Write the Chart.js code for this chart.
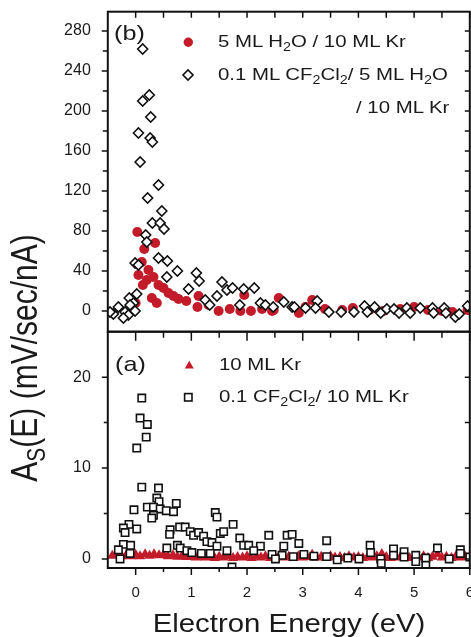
<!DOCTYPE html>
<html>
<head>
<meta charset="utf-8">
<script src="https://cdn.jsdelivr.net/npm/chart.js@4.4.1/dist/chart.umd.min.js"></script>
<style>
  html, body { margin: 0; padding: 0; background: #fff; }
  body { width: 471px; height: 637px; position: relative; overflow: hidden;
         font-family: "Liberation Sans", Arial, sans-serif; color: #1a1a1a; }
  canvas { position: absolute; left: 0; }
  #topChart { top: 0; }
  #botChart { top: 320px; }
  .txt { position: absolute; white-space: nowrap; transform-origin: 0 50%; transform: scaleX(1.2); }
  .txt sub { font-size: 0.7em; vertical-align: -0.3em; line-height: 0; }
  svg.mk { position: absolute; left: 0; top: 0; }
</style>
</head>
<body>
<canvas id="topChart" width="471" height="340"></canvas>
<canvas id="botChart" width="471" height="317"></canvas>

<svg class="mk" width="471" height="637">
  <circle cx="188.3" cy="42.3" r="4.7" fill="#c31b2a"/>
  <path d="M183 75 L188 70 L193 75 L188 80 Z" fill="#fff" stroke="#111" stroke-width="1.6"/>
  <path d="M184.8 368.5 L189.3 360.7 L193.8 368.5 Z" fill="#c31b2a"/>
  <rect x="184.6" y="393.6" width="7.4" height="7.4" fill="#fff" stroke="#111" stroke-width="1.6"/>
</svg>

<div class="txt" style="left:114px; top:22px; font-size:21px; line-height:22px;">(b)</div>
<div class="txt" style="left:115px; top:353px; font-size:21px; line-height:22px;">(a)</div>
<div class="txt" style="left:218px; top:33px; font-size:17px; line-height:18px;">5 ML H<sub>2</sub>O / 10 ML Kr</div>
<div class="txt" style="left:218px; top:66px; font-size:17px; line-height:18px;">0.1 ML CF<sub>2</sub>Cl<sub>2</sub>/ 5 ML H<sub>2</sub>O</div>
<div class="txt" style="left:356px; top:99px; font-size:17px; line-height:18px;">/ 10 ML Kr</div>
<div class="txt" style="left:219px; top:356px; font-size:17px; line-height:18px;">10 ML Kr</div>
<div class="txt" style="left:219px; top:388px; font-size:17px; line-height:18px;">0.1 CF<sub>2</sub>Cl<sub>2</sub>/ 10 ML Kr</div>

<div class="txt" style="left:288.8px; top:609.7px; font-size:26px; line-height:26px; transform-origin:50% 50%; transform:translateX(-50%) scaleX(1.13);">Electron Energy (eV)</div>
<div class="txt" style="left:25px; top:358px; font-size:30px; line-height:30px; transform-origin:50% 50%; transform:translate(-50%,-50%) scaleX(1.2) rotate(-90deg);">A<sub>S</sub>(E) (mV/sec/nA)</div>

<script>
// x range shared by both panels (eV)
const xMin = -0.5, xMax = 6;
const xTickLabels = [0, 1, 2, 3, 4, 5, 6];
const xMinorTicks = [0.5, 1.5, 2.5, 3.5, 4.5, 5.5];

// panel (b) axis
const topTickLabels = [0, 40, 80, 120, 160, 200, 240, 280];
const topMinorTicks = [20, 60, 100, 140, 180, 220, 260];
// panel (a) axis
const botTickLabels = [0, 10, 20];
const botMinorTicks = [5, 15];

// (b) 5 ML H2O / 10 ML Kr
const h2oX = [0.03, 0.155, 0.35, 0.11, 0.23, 0.05, 0.32, 0.13, 0.2, 0.41, 0.5, 0.59, 0.68, 0.77, 0.29, 0.38, 0.0,
              0.91, 1.13, 1.11, 1.31, 1.49, 1.69, 1.88, 1.95, 2.07, 2.27, 2.45, 2.57, 2.48, 2.93, 3.17, 3.05,
              3.4, 3.71, 3.9, 4.2, 4.45, 4.75, 5.0, 5.25, 5.5, 5.69, 5.96];
const h2oY = [79, 62, 68, 49, 41, 36, 34, 26, 31, 26, 23, 18, 15, 12, 13, 8, 8,
              10, 15, 4, 6, 0, 2, 0, 16, 0, 2, 0, 13, 1, -2, 11, 4,
              2, 1, 3, 1, 0, 2, 4, 1, 0, -1, 1];

// (b) 0.1 ML CF2Cl2 / 5 ML H2O / 10 ML Kr
const cfX = [0.126, 0.245, 0.126, 0.27, 0.05, 0.26, 0.3, 0.08, 0.41, 0.215, 0.47, 0.30, 0.44, 0.51, 0.18, 0.2,
             0.41, 0.57, -0.01, 0.05, 0.75, 0.56, 1.09, 1.14, 0.95, 1.55, 1.64, 1.74, 1.94, 2.13, 1.46, 1.25,
             1.33, 1.87, 0.02, -0.115, -0.04, -0.1, -0.31, -0.01, -0.40, -0.19, -0.13, -0.46, -0.22, 2.24, 2.33,
             2.47, 2.66, 2.81, 2.85, 3.05, 3.26, 3.23, 3.47, 3.69, 3.92, 4.11, 4.16, 4.29, 4.40, 4.51, 4.64,
             4.73, 4.87, 4.93, 5.11, 5.33, 5.35, 5.54, 5.57, 5.74, 5.81, 5.96];
const cfY = [262, 216, 210, 194, 178, 173, 169, 149, 126, 113, 100, 88, 88, 82, 76, 69,
             53, 50, 48, 46, 40, 34, 38, 30, 22, 29, 21, 23, 22, 23, 15, 11,
             6, 6, 17, 13, 8, 6, 4, 0, -3, -1, -4, -1, -7, 8, 6,
             4, 9, 4, 4, 3, 10, 3, -1, -1, -1, 5, -1, 4, -2, 2, 2,
             -2, 3, -2, 3, 3, -2, 3, -2, -6, -3, 5];

// (a) 10 ML Kr
const krX = [-0.42, -0.33, -0.25, -0.17, -0.08, 0.0, 0.08, 0.17, 0.25, 0.33, 0.42, 0.5, 0.58, 0.67, 0.75, 0.83,
             0.92, 1.0, 1.08, 1.17, 1.25, 1.33, 1.42, 1.5, 1.58, 1.67, 1.75, 1.83, 1.92, 2.0, 2.08, 2.17,
             2.25, 2.33, 2.42, 2.5, 2.58, 2.67, 2.75, 2.83, 2.92, 3.0, 3.08, 3.17, 3.25, 3.33, 3.42, 3.5,
             3.58, 3.67, 3.75, 3.83, 3.92, 4.0, 4.08, 4.17, 4.25, 4.33, 4.42, 4.5, 4.58, 4.67, 4.75, 4.83,
             4.92, 5.0, 5.08, 5.17, 5.25, 5.33, 5.42, 5.5, 5.58, 5.67, 5.75, 5.83, 5.92, 6.0];
const krY = [0.35, 0.45, 0.3, 0.4, 0.3, 0.45, 0.3, 0.5, 0.35, 0.5, 0.4, 0.45, 0.3, 0.4, 0.25, 0.3,
             0.2, 0.3, 0.15, 0.25, 0.15, 0.2, 0.1, 0.25, 0.15, 0.3, 0.1, 0.2, 0.15, 0.3, 0.1, 0.25,
             0.15, 0.3, 0.1, 0.2, 0.35, 0.15, 0.25, 0.1, 0.3, 0.15, 0.2, 0.45, 0.15, 0.25, 0.1, 0.3,
             0.15, 0.2, 0.1, 0.3, 0.15, 0.2, 0.1, 0.25, 0.15, 0.3, 0.55, 0.2, 0.1, 0.25, 0.15, 0.3,
             0.1, 0.2, 0.15, 0.3, 0.1, 0.25, 0.5, 0.15, 0.25, 0.1, 0.3, 0.15, 0.25, 0.2];

// (a) 0.1 CF2Cl2 / 10 ML Kr
const cfKrX = [0.11, 0.08, 0.21, 0.19, 0.02, 0.11, 0.41, 0.38, 0.42, 0.21, 0.32, 0.73, -0.03, 0.44, 0.55, 0.68,
               0.32, 0.29, 1.43, 1.46, 1.75, -0.12, -0.22, 0.02, -0.19, 0.62, 0.61, 0.79, 0.89, 0.98, 1.04, 1.13,
               1.22, 1.52, 1.58, 1.28, 1.37, 1.46, 1.87, 1.94, 2.03, 2.39, 2.24, 2.72, 2.66, -0.22, -0.09, -0.31,
               -0.28, -0.10, 0.56, 0.75, 0.80, 0.92, 1.01, 1.18, 1.34, 1.64, 2.12, 2.45, 2.63, 1.73, 2.81, 2.93,
               2.83, 2.51, 3.02, 3.20, 3.43, 3.43, 3.62, 3.81, 4.01, 4.21, 4.22, 4.40, 4.41, 4.63, 4.63, 4.82,
               4.82, 5.03, 5.03, 5.21, 5.21, 5.42, 5.63, 5.83, 5.83, 6.00];
const cfKrY = [17.7, 15.5, 14.8, 13.4, 12.2, 7.9, 7.8, 6.7, 6.3, 5.7, 5.7, 6.1, 5.4, 5.5, 5.3, 5.2,
               4.8, 4.5, 5.1, 4.6, 3.8, 3.8, 3.4, 3.3, 2.9, 3.2, 2.7, 3.5, 3.5, 3.0, 2.6, 2.9,
               2.5, 2.8, 3.0, 1.9, 1.8, 1.4, 2.3, 1.5, 1.5, 2.6, 1.4, 2.6, 1.4, 1.6, 1.5, 1.0,
               0.0, 0.6, 1.2, 1.5, 1.2, 0.9, 0.7, 0.6, 0.6, 0.9, 0.9, 0.5, 0.4, -0.9, 2.7, 1.7,
               0.25, 0.0, 0.5, 0.3, 2.0, 0.25, -0.1, 0.1, 0.0, 1.5, 0.7, 0.0, -0.5, 1.1, 0.4, 0.8,
               0.2, 0.4, -0.3, 0.1, -0.7, 1.2, 0.0, 1.0, 0.6, 0.2];

const red = '#c31b2a';
const ink = '#111';

function pts(xs, ys) {
    return xs.map((x, i) => ({ x: x, y: ys[i] }));
}

// frame box plus tick marks on all four sides, placed through the chart's scales
const frameTicks = {
    id: 'frameTicks',
    afterDraw(chart, args, opts) {
        const { ctx, chartArea: a, scales } = chart;
        const x = scales.x, y = scales.y;
        ctx.save();
        ctx.strokeStyle = ink;
        ctx.lineWidth = 2;
        ctx.strokeRect(a.left, a.top, a.right - a.left, a.bottom - a.top);
        ctx.lineWidth = 1.5;
        ctx.beginPath();
        const yTicks = opts.yMajor.map(v => [v, true]).concat(opts.yMinor.map(v => [v, false]));
        yTicks.forEach(([v, major]) => {
            const py = y.getPixelForValue(v);
            const lenL = major ? opts.left[0] : opts.left[1];
            ctx.moveTo(a.left - lenL, py); ctx.lineTo(a.left, py);
            ctx.moveTo(a.right, py); ctx.lineTo(a.right - opts.right, py);
        });
        const xTicks = xTickLabels.map(v => [v, true]).concat(xMinorTicks.map(v => [v, false]));
        xTicks.forEach(([v, major]) => {
            const px = x.getPixelForValue(v);
            if (opts.top) {
                const len = major ? opts.top[0] : opts.top[1];
                ctx.moveTo(px, a.top); ctx.lineTo(px, a.top + len);
            }
            if (opts.bottom) {
                const len = major ? opts.bottom[0] : opts.bottom[1];
                ctx.moveTo(px, a.bottom); ctx.lineTo(px, a.bottom + len);
            }
        });
        ctx.stroke();
        ctx.restore();
    }
};

function yAxis(min, max, labels) {
    return {
        type: 'linear', position: 'left', min: min, max: max,
        grid: { display: false, drawTicks: false },
        border: { display: false },
        ticks: { padding: 17, color: '#1a1a1a', font: { family: 'Liberation Sans', size: 16 } },
        afterBuildTicks: s => { s.ticks = labels.map(v => ({ value: v })); },
        afterFit: s => { s.width = 107.8; s.paddingTop = 0; s.paddingBottom = 0; }
    };
}

function xAxis(show) {
    return {
        type: 'linear', position: 'bottom', min: xMin, max: xMax, display: show,
        grid: { display: false, drawTicks: false },
        border: { display: false },
        ticks: { padding: 16, autoSkip: false, maxRotation: 0, color: '#1a1a1a',
                 font: { family: 'Liberation Sans', size: 15 } },
        afterBuildTicks: s => { s.ticks = xTickLabels.map(v => ({ value: v })); },
        afterFit: s => { s.height = show ? 69 : 0; s.paddingLeft = 0; s.paddingRight = 0; }
    };
}

new Chart(document.getElementById('topChart'), {
    type: 'scatter',
    data: {
        datasets: [
            { label: '0.1 ML CF2Cl2/ 5 ML H2O / 10 ML Kr', data: pts(cfX, cfY), order: 0,
              pointStyle: 'rectRot', pointRadius: 5, backgroundColor: '#fff', borderColor: ink, borderWidth: 1.6 },
            { label: '5 ML H2O / 10 ML Kr', data: pts(h2oX, h2oY), order: 1,
              pointStyle: 'circle', pointRadius: 5, backgroundColor: red, borderColor: red, borderWidth: 0 }
        ]
    },
    options: {
        responsive: false, animation: false, events: [],
        layout: { autoPadding: false, padding: { top: 11.7, right: 1.2, bottom: 8.3, left: 0 } },
        scales: { x: xAxis(false), y: yAxis(-20.7, 299.3, topTickLabels) },
        plugins: {
            legend: { display: false }, tooltip: { enabled: false },
            frameTicks: { yMajor: topTickLabels, yMinor: topMinorTicks, left: [6, 5], right: 5, top: [6, 6], bottom: null }
        }
    },
    plugins: [frameTicks]
});

new Chart(document.getElementById('botChart'), {
    type: 'scatter',
    data: {
        datasets: [
            { label: '0.1 CF2Cl2/ 10 ML Kr', data: pts(cfKrX, cfKrY), order: 0,
              pointStyle: 'rect', pointRadius: 5.2, backgroundColor: '#fff', borderColor: ink, borderWidth: 1.6 },
            { label: '10 ML Kr', data: pts(krX, krY), order: 1,
              pointStyle: 'triangle', pointRadius: 6, backgroundColor: red, borderColor: red, borderWidth: 0 }
        ]
    },
    options: {
        responsive: false, animation: false, events: [],
        layout: { autoPadding: false, padding: { top: 11.7, right: 1.2, bottom: 0, left: 0 } },
        scales: { x: xAxis(true), y: yAxis(-1, 25, botTickLabels) },
        plugins: {
            legend: { display: false }, tooltip: { enabled: false },
            frameTicks: { yMajor: botTickLabels, yMinor: botMinorTicks, left: [6, 4], right: 5, top: [9, 6], bottom: [7, 4] }
        }
    },
    plugins: [frameTicks]
});
</script>
</body>
</html>
